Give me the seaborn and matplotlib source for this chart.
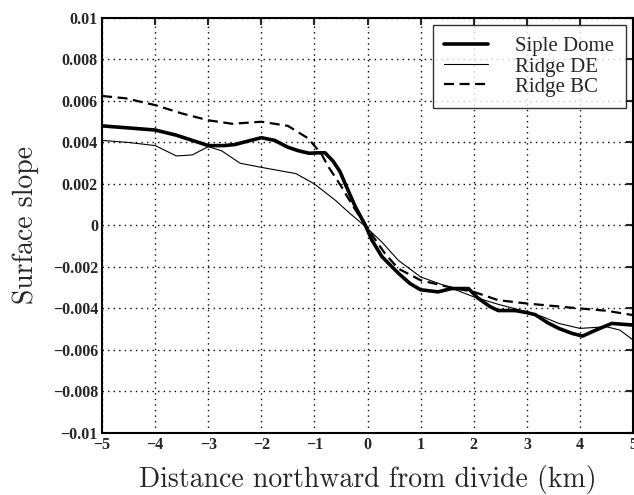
import numpy as np
import pandas as pd
import seaborn as sns
import matplotlib
matplotlib.use("Agg")
import matplotlib.pyplot as plt

# ---- data ----
siple_x = [-5, -4.5, -4, -3.6, -3.3, -3, -2.7, -2.5, -2.2, -2, -1.75, -1.5, -1.3, -1.1,
           -0.95, -0.8, -0.65, -0.52, -0.42, -0.23, -0.04, 0.08, 0.27, 0.58, 0.8, 1.0,
           1.33, 1.58, 1.9, 2.08, 2.3, 2.46, 2.78, 3.0, 3.16, 3.4, 3.6, 3.85, 4.05, 4.3,
           4.6, 5.0]
siple_y = [0.0048, 0.0047, 0.0046, 0.00435, 0.0041, 0.00385, 0.00385, 0.0039, 0.0041,
           0.00423, 0.0041, 0.00377, 0.0036, 0.00348, 0.0035, 0.0035, 0.0031, 0.0026,
           0.002, 0.0009, 0.0, -0.0007, -0.0015, -0.0023, -0.0028, -0.0031, -0.0032,
           -0.00304, -0.00304, -0.0035, -0.0039, -0.0041, -0.0041, -0.0042, -0.0043,
           -0.0047, -0.00496, -0.0052, -0.00533, -0.00504, -0.00472, -0.0048]

de_x = [-5, -4.5, -4, -3.8, -3.6, -3.3, -3, -2.75, -2.4, -2, -1.35, -1, -0.6, -0.36,
        -0.04, 0.27, 0.58, 1.0, 1.52, 2.0, 2.46, 3.0, 3.3, 3.6, 4.0, 4.5, 4.75, 5.0]
de_y = [0.0041, 0.004, 0.00385, 0.0036, 0.00335, 0.0034, 0.0038, 0.0036, 0.003, 0.0028,
        0.0025, 0.002, 0.0012, 0.00064, -0.00005, -0.0008, -0.00168, -0.00248, -0.00296,
        -0.00344, -0.0038, -0.00416, -0.0044, -0.00472, -0.00496, -0.00488, -0.00504,
        -0.00552]

bc_x = [-5, -4.56, -4, -3.5, -3, -2.55, -2, -1.5, -1.12, -0.87, -0.73, -0.5, -0.3,
        -0.04, 0.33, 0.58, 1.0, 1.52, 2.0, 2.46, 3.0, 4.0, 4.5, 5.0]
bc_y = [0.00624, 0.00613, 0.0058, 0.0054, 0.00507, 0.0049, 0.005, 0.0048, 0.0042,
        0.00345, 0.0028, 0.0019, 0.00104, 0.0, -0.00136, -0.00208, -0.00264, -0.00296,
        -0.0032, -0.0036, -0.00376, -0.004, -0.00411, -0.00432]

series_names = ["Siple Dome", "Ridge DE", "Ridge BC"]
x_ticks = [-5, -4, -3, -2, -1, 0, 1, 2, 3, 4, 5]
x_tick_labels = ["\u22125", "\u22124", "\u22123", "\u22122", "\u22121", "0", "1", "2", "3", "4", "5"]
y_ticks = [0.01, 0.008, 0.006, 0.004, 0.002, 0, -0.002, -0.004, -0.006, -0.008, -0.01]
y_tick_labels = ["0.01", "0.008", "0.006", "0.004", "0.002", "0", "\u22120.002",
                 "\u22120.004", "\u22120.006", "\u22120.008", "\u22120.01"]

sns.set_style("white")
plt.rcParams["font.family"] = ["Liberation Serif", "DejaVu Serif"]

fig = plt.figure(figsize=(6.34, 4.95), dpi=100)
ax = fig.add_axes([0.161, 0.1253, 0.8375, 0.8384])

styles = [
    dict(lw=2.6, ls="-"),
    dict(lw=0.8, ls="-"),
    dict(lw=1.6, ls=(0, (4.5, 2.5))),
]
for name, xs, ys, st in zip(series_names, [siple_x, de_x, bc_x], [siple_y, de_y, bc_y], styles):
    sns.lineplot(x=xs, y=ys, ax=ax, color="black", linewidth=st["lw"], linestyle=st["ls"],
                 estimator=None, sort=False, label=name)

ax.set_xlim(-5, 5)
ax.set_ylim(-0.01, 0.01)
ax.set_xticks(x_ticks)
ax.set_xticklabels(x_tick_labels, fontweight="bold", fontsize=11.5)
ax.set_yticks(y_ticks)
ax.set_yticklabels(y_tick_labels, fontweight="bold", fontsize=11.5)
ax.tick_params(direction="in", length=5, width=1.5, top=True, right=True, pad=3)
ax.grid(True, color="black", linestyle=(0, (1, 3)), linewidth=1.0)
for s in ax.spines.values():
    s.set_linewidth(1.5)
    s.set_color("black")

ax.set_xlabel("Distance northward from divide (km)", fontfamily="cmr10", fontsize=20, labelpad=8.5)
ax.set_ylabel("Surface slope", fontfamily="cmr10", fontsize=20, labelpad=10)

leg = ax.legend(loc="upper right", fontsize=15, frameon=True, fancybox=False,
                edgecolor="black", handlelength=2.1, borderaxespad=0.35,
                labelspacing=0.03, handletextpad=1.3, borderpad=0.55)
leg.get_frame().set_linewidth(1.0)

fig.savefig("out.png", dpi=100)
